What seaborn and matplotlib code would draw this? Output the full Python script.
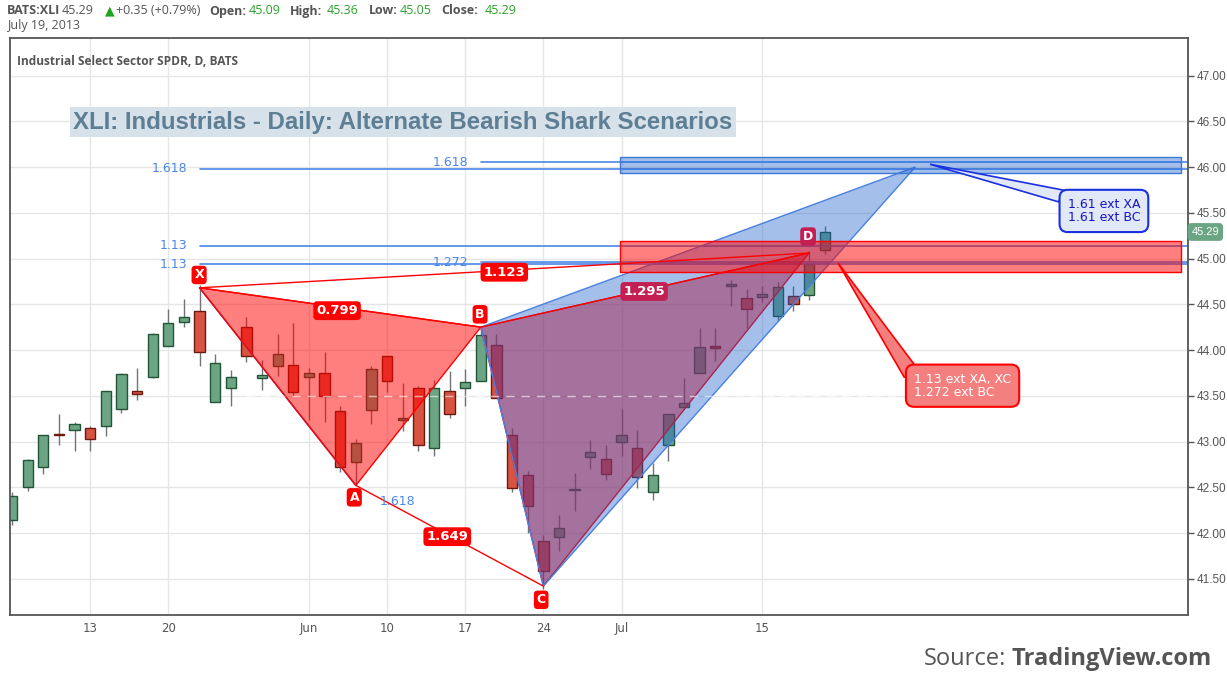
import pandas as pd
import numpy as np
import matplotlib
matplotlib.use('Agg')
import matplotlib.pyplot as plt
import seaborn as sns
from matplotlib.patches import Polygon, Rectangle
import matplotlib.transforms as mtransforms

# --- data (XLI daily, May 6 - Jul 19 2013) ---
DATES = ['2013-05-06', '2013-05-07', '2013-05-08', '2013-05-09', '2013-05-10',
         '2013-05-13', '2013-05-14', '2013-05-15', '2013-05-16', '2013-05-17',
         '2013-05-20', '2013-05-21', '2013-05-22', '2013-05-23', '2013-05-24',
         '2013-05-28', '2013-05-29', '2013-05-30', '2013-05-31',
         '2013-06-03', '2013-06-04', '2013-06-05', '2013-06-06', '2013-06-07',
         '2013-06-10', '2013-06-11', '2013-06-12', '2013-06-13', '2013-06-14',
         '2013-06-17', '2013-06-18', '2013-06-19', '2013-06-20', '2013-06-21',
         '2013-06-24', '2013-06-25', '2013-06-26', '2013-06-27', '2013-06-28',
         '2013-07-01', '2013-07-02', '2013-07-03', '2013-07-05',
         '2013-07-08', '2013-07-09', '2013-07-10', '2013-07-11', '2013-07-12',
         '2013-07-15', '2013-07-16', '2013-07-17', '2013-07-18', '2013-07-19']
OPENS = [42.14, 42.50, 42.72, 43.08, 43.13, 43.15, 43.17, 43.35, 43.55, 43.70,
         44.04, 44.31, 44.43, 43.43, 43.58, 44.25, 43.69, 43.82, 43.84,
         43.71, 43.75, 43.33, 42.78, 43.34, 43.94, 43.23, 43.59, 42.93, 43.55,
         43.58, 43.66, 44.06, 43.07, 42.63, 41.91, 41.96, 42.47, 42.83, 42.81,
         42.99, 42.93, 42.45, 42.96, 43.38, 43.75, 44.04, 44.70, 44.57,
         44.58, 44.37, 44.59, 44.60, 45.09]
HIGHS = [42.45, 42.81, 43.07, 43.30, 43.21, 43.17, 43.55, 43.75, 43.80, 44.19,
         44.45, 44.56, 44.71, 43.96, 43.78, 44.36, 43.89, 44.17, 44.29,
         43.80, 43.98, 43.39, 43.03, 43.82, 43.94, 43.64, 43.61, 43.67, 43.77,
         43.79, 44.24, 44.18, 43.15, 42.68, 41.98, 42.20, 42.66, 43.02, 42.96,
         43.35, 43.13, 42.76, 43.30, 43.69, 44.24, 44.24, 44.76, 44.67,
         44.70, 44.74, 44.70, 45.08, 45.36]
LOWS = [42.09, 42.46, 42.65, 42.96, 42.90, 42.90, 43.06, 43.31, 43.45, 43.69,
        44.04, 44.25, 43.83, 43.43, 43.39, 43.87, 43.56, 43.72, 43.50,
        43.24, 43.21, 42.67, 42.54, 43.19, 43.54, 43.12, 42.90, 42.84, 43.26,
        43.39, 43.66, 43.48, 42.45, 42.00, 41.39, 41.80, 42.24, 42.70, 42.58,
        42.84, 42.49, 42.36, 42.79, 43.37, 43.75, 43.88, 44.48, 44.24,
        44.52, 44.32, 44.43, 44.55, 45.05]
CLOSES = [42.40, 42.80, 43.07, 43.07, 43.19, 43.03, 43.55, 43.74, 43.52, 44.17,
          44.30, 44.36, 43.98, 43.86, 43.71, 43.94, 43.73, 43.96, 43.54,
          43.75, 43.50, 42.72, 42.98, 43.79, 43.66, 43.26, 42.96, 43.59, 43.30,
          43.65, 44.16, 43.48, 42.49, 42.30, 41.59, 42.06, 42.48, 42.89, 42.64,
          43.07, 42.61, 42.63, 43.30, 43.42, 44.03, 44.02, 44.72, 44.45,
          44.61, 44.69, 44.50, 44.94, 45.29]

TICK_DATES = ['2013-05-13', '2013-05-20', '2013-06-03', '2013-06-10',
              '2013-06-17', '2013-06-24', '2013-07-01', '2013-07-15']
TICK_LABELS = ['13', '20', 'Jun', '10', '17', '24', 'Jul', '15']

# harmonic pattern points (bar index, price)
PT_NAMES = ['X', 'A', 'B', 'C', 'D']
PT_BARS = [12, 22, 30, 34, 51]
PT_PRICES = [44.68, 42.52, 44.25, 41.42, 45.06]
D_ALT_BAR = 57.8        # blue (1.618) completion point
D_ALT_PRICE = 46.0

# fib extension levels: label, price, start bar
FIB_LABELS = ['1.618', '1.618', '1.13', '1.13', '1.272']
FIB_PRICES = [45.98, 46.05, 45.14, 44.94, 44.96]
FIB_START = [12, 30, 12, 12, 30]

BLUE_ZONE = (45.93, 46.11)
RED_ZONE = (44.85, 45.19)
ZONE_START = 38.9

# --- style ---
sns.set_theme(style='white')
plt.rcParams['font.family'] = ['Open Sans', 'DejaVu Sans']

GREEN, GREEN_EDGE = '#6BA583', '#225437'
RED, RED_EDGE = '#D75442', '#6B1B0E'
WICK = '#737375'
BLUE_FILL = (0.118, 0.373, 0.804, 0.40)
RED_FILL = (1, 0, 0, 0.5)
FIBBLUE = '#4A86E8'
AXCOL = '#555555'

df = pd.DataFrame({'date': pd.to_datetime(DATES), 'open': OPENS, 'high': HIGHS,
                   'low': LOWS, 'close': CLOSES})
df['i'] = np.arange(len(df))
up = df['close'] >= df['open']

W, H = 1227, 686
fig = plt.figure(figsize=(W / 100, H / 100), dpi=100)
ax = fig.add_axes([10 / W, 1 - 615 / H, 1178 / W, 577 / H])
ax.set_xlim(-0.13, 75.25)
ax.set_ylim(41.104, 47.41)

# grid
for v in np.arange(41.5, 47.01, 0.5):
    ax.axhline(v, color='#E6E6E6', lw=1, zorder=0)
tick_idx = [int(df.index[df['date'] == pd.Timestamp(d)][0]) for d in TICK_DATES]
for t in tick_idx:
    ax.axvline(t, color='#E6E6E6', lw=1, zorder=0)

# candles
ax.vlines(df['i'], df['low'], df['high'], color=WICK, lw=1, zorder=2)
body_lo = np.minimum(df['open'], df['close'])
body_h = np.maximum((df['close'] - df['open']).abs(), 0.012)
ax.bar(df['i'][up], body_h[up], bottom=body_lo[up], width=0.66,
       color=GREEN, edgecolor=GREEN_EDGE, linewidth=1, zorder=2.2)
ax.bar(df['i'][~up], body_h[~up], bottom=body_lo[~up], width=0.66,
       color=RED, edgecolor=RED_EDGE, linewidth=1, zorder=2.2)

# fib extension lines
for lab, p, s in zip(FIB_LABELS, FIB_PRICES, FIB_START):
    ax.plot([s, 75.25], [p, p], color=FIBBLUE, lw=1.2, zorder=2.5)
    ax.text(s - 0.8, p, lab, color=FIBBLUE, fontsize=9, ha='right',
            va='center', zorder=5, family=['DejaVu Sans'])

P = dict(zip(PT_NAMES, zip(PT_BARS, PT_PRICES)))
Dalt = (D_ALT_BAR, D_ALT_PRICE)

# red pattern fills
for tri in [('X', 'A', 'B'), ('B', 'C', 'D')]:
    ax.add_patch(Polygon([P[k] for k in tri], closed=True, fc=RED_FILL,
                         ec='#FF0000', lw=1, zorder=3))
# blue leg X-A
ax.plot([P['X'][0], P['A'][0]], [P['X'][1], P['A'][1]], color='#3C78D8', lw=1.2, zorder=2.9)
# blue alternate triangle
ax.add_patch(Polygon([P['B'], P['C'], Dalt], closed=True, fc=BLUE_FILL,
                     ec='#4A80E0', lw=1, zorder=3.1))

# zones
ax.add_patch(Rectangle((ZONE_START, BLUE_ZONE[0]), 74.8 - ZONE_START,
                       BLUE_ZONE[1] - BLUE_ZONE[0], fc=BLUE_FILL,
                       ec='#3C78D8', lw=1, zorder=3.3))
ax.add_patch(Rectangle((ZONE_START, RED_ZONE[0]), 74.8 - ZONE_START,
                       RED_ZONE[1] - RED_ZONE[0], fc=RED_FILL,
                       ec='#FF0000', lw=1, zorder=3.3))

# faint white dashed line over the fills
ax.plot([15, 56.5], [43.5, 43.5], color='white', lw=1, ls=(0, (6, 5)), alpha=0.6, zorder=3.4)

# red pattern legs
legs = [('X', 'B'), ('A', 'C'), ('X', 'D'), ('B', 'D')]
for a, b in legs:
    sns.lineplot(x=[P[a][0], P[b][0]], y=[P[a][1], P[b][1]], color='#FF0000',
                 lw=1, sort=False, estimator=None, ax=ax, zorder=3.6)


def tag(x, y, s, fc='#FF0000', size=9.5):
    ax.text(x, y, s, color='white', fontsize=size, fontweight='bold', ha='center',
            va='center', zorder=6, family=['DejaVu Sans'],
            bbox=dict(boxstyle='round,pad=0.22,rounding_size=0.3', fc=fc, ec='none'))


tag(20.8, 44.43, '0.799')
tag(31.5, 44.85, '1.123')
tag(27.85, 41.96, '1.649')
tag(40.45, 44.64, '1.295', fc='#C41F52')
tag(11.97, 44.82, 'X', size=9)
tag(21.9, 42.39, 'A', size=9)
tag(29.95, 44.39, 'B', size=9)
tag(33.86, 41.27, 'C', size=9)
tag(50.94, 45.24, 'D', fc='#C41F52', size=9)
ax.text(24.64, 42.34, '1.618', color=FIBBLUE, fontsize=9, ha='center', va='center',
        zorder=5, family=['DejaVu Sans'])

# callouts
ax.add_patch(Polygon([(58.74, 46.03), (67.5, 45.74), (66.95, 45.62)], closed=True,
                     fc='#E1E8F8', ec='#1A2FE0', lw=1.2, zorder=6))
ax.text(67.55, 45.52, '1.61 ext XA\n1.61 ext BC', color='#1515C8', fontsize=9,
        ha='left', va='center', linespacing=1.0, zorder=7, family=['DejaVu Sans'],
        bbox=dict(boxstyle='round,pad=0.65', fc='#E1E8F8', ec='#1A2FE0', lw=1.5))
ax.add_patch(Polygon([(52.86, 44.95), (57.7, 43.85), (57.1, 43.7)], closed=True,
                     fc='#F47F7F', ec='#FF0000', lw=1.2, zorder=6))
ax.text(57.72, 43.61, '1.13 ext XA, XC\n1.272 ext BC', color='white', fontsize=9,
        ha='left', va='center', linespacing=1.0, zorder=7, family=['DejaVu Sans'],
        bbox=dict(boxstyle='round,pad=0.65', fc='#F47F7F', ec='#FF0000', lw=1.5))

# axes styling
ax.yaxis.tick_right()
ax.set_yticks(np.arange(41.5, 47.01, 0.5))
ax.set_yticklabels([f'{v:.2f}' for v in np.arange(41.5, 47.01, 0.5)],
                   family=['Liberation Sans', 'DejaVu Sans'])
ax.tick_params(axis='y', right=True, length=4, width=1, color=AXCOL,
               labelcolor=AXCOL, labelsize=8.5, pad=2)
ax.set_xticks(tick_idx)
ax.set_xticklabels(TICK_LABELS, family=['Liberation Sans Narrow', 'DejaVu Sans'])
ax.tick_params(axis='x', length=0, labelcolor=AXCOL, labelsize=8.5, pad=5)
ax.set_xlabel('')
ax.set_ylabel('')
for sp in ax.spines.values():
    sp.set_color(AXCOL)
    sp.set_linewidth(1.3)

# last price tag
trans = mtransforms.blended_transform_factory(ax.transAxes, ax.transData)
ax.text(1.003, 45.29, '45.29', transform=trans, color='white', fontsize=8,
        ha='left', va='center', family=['Liberation Sans', 'DejaVu Sans'],
        bbox=dict(boxstyle='round,pad=0.35', fc=GREEN, ec='none'), clip_on=False, zorder=8)


# texts in figure pixels
def fx(x, y):
    return x / W, 1 - y / H


ax.text(0.006, 0.97, 'Industrial Select Sector SPDR, D, BATS', transform=ax.transAxes,
        fontsize=8.6, fontweight='bold', color='#555555', va='top', ha='left')

fig.text(*fx(403, 122), 'XLI: Industrials - Daily: Alternate Bearish Shark Scenarios',
         fontsize=17.3, fontweight='bold', color='#5E7E94', ha='center', va='center',
         family=['Liberation Sans', 'DejaVu Sans'],
         bbox=dict(boxstyle='square,pad=0.15', fc='#D6E1EA', ec='none'))

# header line (x positions)
hdr = [(7, 'BATS:XLI', '#555555', 'bold'), (62, '45.29', '#555555', 'normal'),
       (105, '\u25B2', '#1DA51D', 'normal'), (116, '+0.35 (+0.79%)', '#555555', 'normal'),
       (209, 'Open:', '#555555', 'bold'), (249, '45.09', '#2AA22A', 'normal'),
       (290, 'High:', '#555555', 'bold'), (327, '45.36', '#2AA22A', 'normal'),
       (369, 'Low:', '#555555', 'bold'), (400, '45.05', '#2AA22A', 'normal'),
       (441, 'Close:', '#555555', 'bold'), (485, '45.29', '#2AA22A', 'normal')]
for x, s, c, w in hdr:
    fig.text(*fx(x, 11), s, fontsize=9, color=c, fontweight=w, ha='left',
             va='center', family=['Open Sans', 'DejaVu Sans'])
fig.text(*fx(7, 25), 'July 19, 2013', fontsize=9, color='#555555', ha='left', va='center')

renderer = fig.canvas.get_renderer()
src = fig.text(*fx(1212, 659), 'TradingView.com', fontsize=17, color='#555555',
               fontweight='bold', ha='right', va='center',
               family=['Liberation Sans Narrow', 'Open Sans'])
sx = src.get_window_extent(renderer).x0
fig.text((sx - 6) / W, 1 - 659 / H, 'Source:', fontsize=17, color='#555555',
         ha='right', va='center', family=['Liberation Sans Narrow', 'Open Sans'])

fig.savefig('out.png', dpi=100)
